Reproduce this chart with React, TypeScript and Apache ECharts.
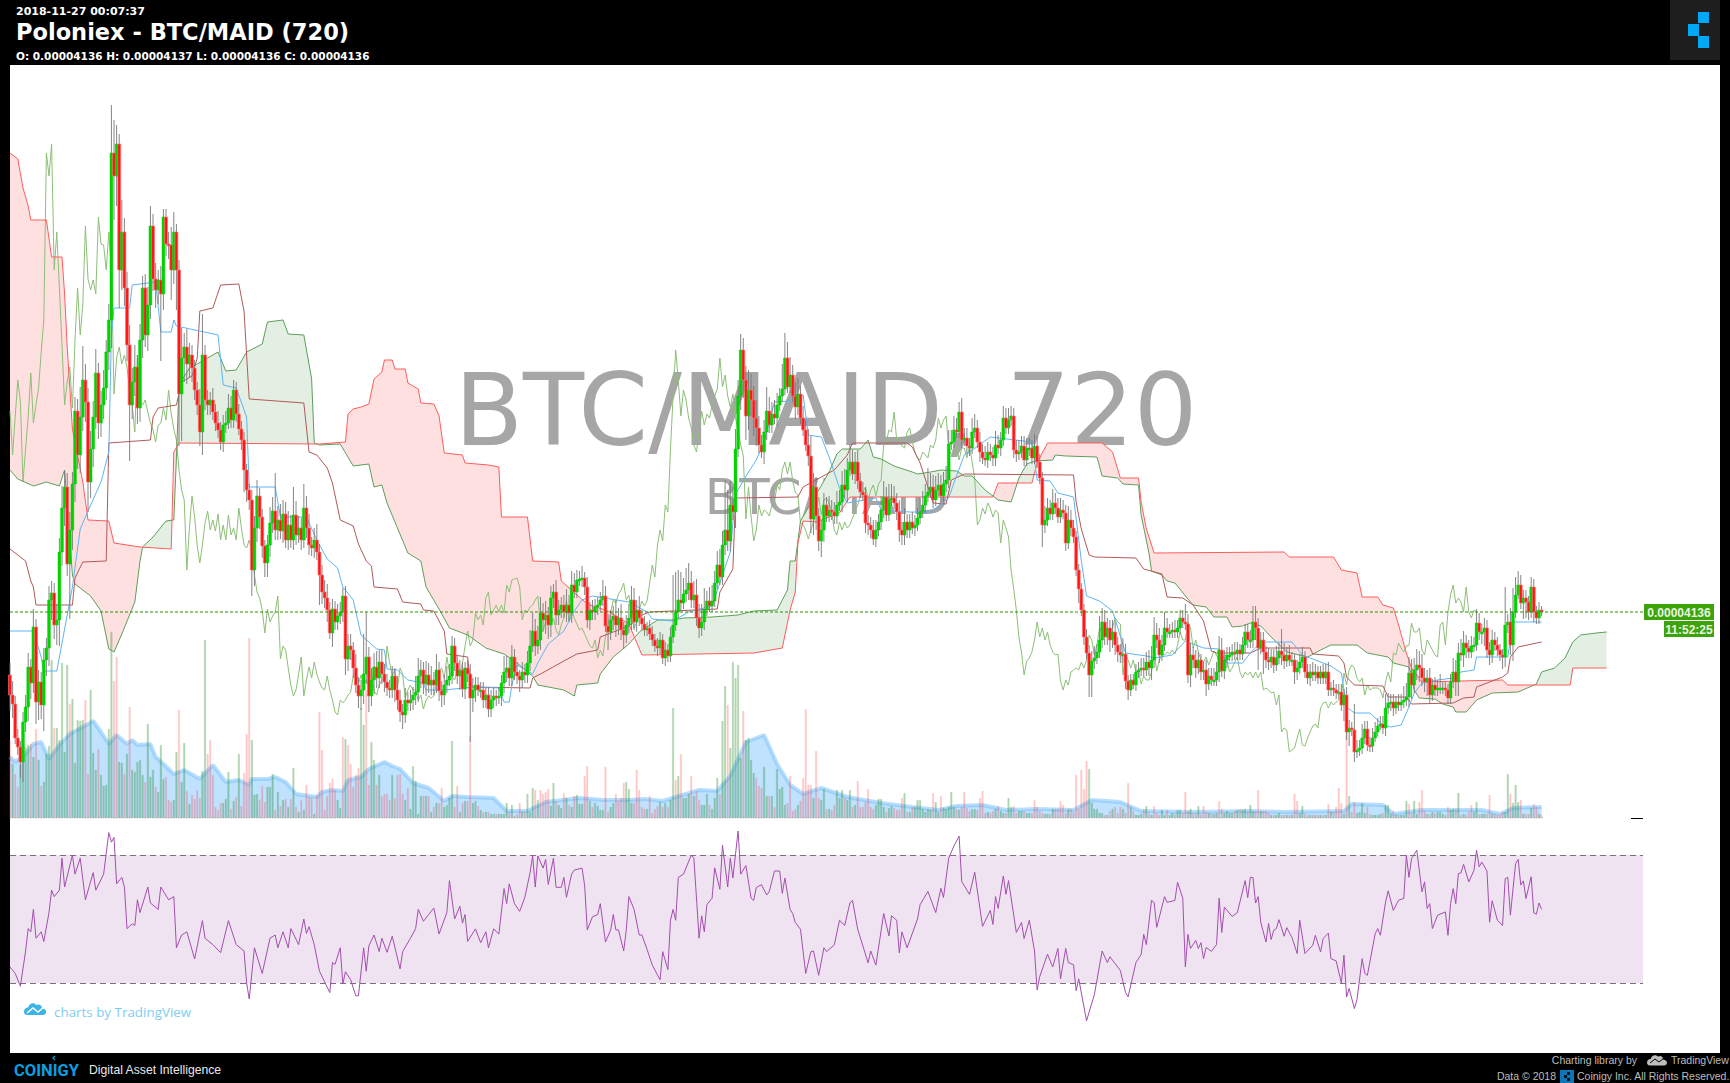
import React, { useEffect, useRef } from "react";
import * as echarts from "echarts";

// Prices are in units of 1e-7 BTC (414 = 0.00004140).
const closes = [
331,322,288,279,264,304,319,359,343,399,
324,344,321,366,378,426,433,401,406,474,
518,539,462,496,542,615,571,609,646,624,
544,577,609,653,603,621,638,674,706,873,
850,882,756,794,738,681,621,644,659,618,
686,738,691,721,800,747,736,746,732,809,
782,781,756,794,756,632,668,679,662,671,
658,636,621,594,671,626,621,626,614,603,
596,584,601,603,618,606,636,612,597,586,
556,536,526,456,498,530,509,480,463,481,
503,515,496,506,495,512,486,501,486,511,
491,498,486,518,498,481,478,486,474,451,
434,428,416,393,417,404,410,414,430,367,
380,376,358,341,330,336,352,369,330,346,
359,348,364,352,344,338,336,350,336,326,
314,311,326,323,326,331,334,350,356,342,
351,341,346,341,356,335,331,341,346,350,
380,363,350,356,337,358,352,328,336,341,
336,336,326,331,317,326,330,328,330,343,
354,358,348,369,354,350,346,354,351,363,
380,395,380,386,413,406,411,401,428,434,
411,416,421,414,421,413,441,434,446,447,
448,439,406,416,414,419,421,426,430,400,
394,406,410,401,408,396,391,401,408,426,
404,416,408,402,396,398,392,386,380,378,
386,368,376,370,389,401,414,426,423,432,
436,443,426,431,408,398,404,416,425,420,
425,443,461,449,481,496,485,521,514,577,
630,676,646,610,636,626,608,598,581,574,
594,615,601,612,608,621,630,637,668,639,
651,630,619,632,608,596,581,570,507,539,
510,485,496,521,510,516,514,510,521,524,
541,536,556,564,552,564,545,534,531,503,
501,496,487,496,504,516,529,511,526,528,
523,514,496,491,504,496,504,498,501,508,
514,521,530,534,539,526,536,541,530,542,
546,582,584,596,594,614,586,588,580,578,
594,598,584,574,568,566,574,571,568,581,
578,586,608,598,606,610,576,572,574,580,
566,578,578,568,580,564,548,501,506,518,
512,523,518,509,516,513,483,506,498,489,
456,437,416,389,373,351,365,368,374,386,
404,389,398,386,394,381,374,371,372,345,
336,346,341,354,356,358,356,364,358,366,
391,386,371,381,398,394,394,396,394,398,
408,404,402,351,371,366,358,366,354,356,
342,350,346,346,354,376,355,366,371,371,
374,372,376,372,381,394,386,386,404,398,
378,386,374,366,364,369,361,368,375,371,
365,371,366,366,354,358,364,369,354,348,
354,351,354,348,354,348,354,336,338,336,
333,334,321,331,294,298,296,274,276,278,
288,297,281,280,288,294,300,302,298,318,
323,324,318,324,321,324,326,329,353,341,
356,361,358,348,344,348,331,341,336,338,
338,338,336,328,344,354,344,373,371,383,
378,374,380,381,403,394,394,398,376,371,
386,381,376,371,369,401,404,381,414,431,
441,423,428,424,414,439,414,408,416,414];

const wickUp = [
12,14,8,9,6,10,12,14,8,18,8,12,10,12,10,14,12,10,16,14,
22,16,14,18,12,14,12,30,34,16,14,18,16,24,10,14,18,12,16,48,
33,19,10,32,14,16,20,14,22,12,16,12,14,18,20,12,16,10,14,8,
8,12,18,20,8,10,30,14,18,12,10,8,8,16,41,10,10,8,12,8,
12,8,10,12,14,12,10,8,10,8,8,6,6,10,12,16,8,8,6,10,
16,14,38,14,16,14,12,14,10,28,14,12,10,24,12,14,8,12,16,8,
10,12,14,8,10,8,12,10,8,10,12,12,8,14,8,10,40,45,10,12,
14,16,12,12,10,8,8,10,8,14,10,8,12,8,10,8,16,18,10,8,
14,12,14,8,16,8,10,10,14,12,10,8,8,10,8,6,8,10,12,8,
8,8,8,8,8,10,8,6,8,8,16,12,10,12,8,10,6,10,8,12,
16,18,12,14,16,10,14,8,12,8,12,10,8,10,16,10,14,12,10,8,
12,6,10,8,10,8,8,8,16,10,12,10,10,16,10,14,8,10,14,14,
12,10,14,8,8,6,8,8,6,8,8,6,8,6,10,50,40,30,28,16,
22,20,12,14,16,14,18,22,10,14,16,12,14,16,14,50,40,24,18,20,
16,16,12,14,20,16,14,18,12,10,12,24,14,12,14,12,8,25,25,16,
18,10,14,16,8,12,10,16,20,14,10,8,10,12,8,14,10,10,14,12,
14,16,12,18,12,10,12,8,10,8,8,8,10,10,8,14,16,10,16,14,
12,10,12,8,14,8,8,10,10,10,14,14,12,24,14,12,14,12,10,12,
14,14,12,14,12,10,14,10,10,8,14,14,8,10,8,12,10,8,8,14,
10,8,12,10,12,10,8,10,12,10,10,10,10,8,12,10,8,6,14,10,
8,14,10,10,12,10,8,14,10,8,6,6,6,6,8,8,10,12,8,24,
14,12,10,8,12,10,8,8,16,10,6,6,6,8,8,10,10,10,12,14,
18,12,12,10,16,10,8,8,10,8,8,8,18,10,12,8,10,8,6,8,
10,8,8,12,10,14,12,10,8,8,8,10,8,6,8,8,8,10,16,16,
10,8,8,6,12,8,8,12,8,22,12,8,10,8,6,8,8,10,6,8,
8,10,8,6,6,8,8,10,6,8,6,8,8,6,8,8,6,26,10,8,
14,8,8,8,10,10,8,8,8,14,10,8,8,6,8,8,14,14,16,14,
12,16,14,14,10,8,10,6,8,8,14,6,6,6,8,14,12,10,14,12,
8,8,10,8,14,10,8,10,8,8,10,8,8,6,6,38,8,14,24,18,
14,10,8,8,6,10,8,6,8,4];

const wickDown = [
16,14,6,8,16,20,10,14,16,10,22,18,14,26,16,18,20,14,20,26,
14,18,12,55,20,18,14,18,14,20,30,16,18,12,16,14,14,12,18,28,
44,30,38,20,18,16,56,14,14,16,14,18,12,16,14,12,18,14,67,16,
12,14,30,14,40,52,47,24,20,14,14,10,10,14,23,10,10,10,8,8,
8,8,10,8,6,8,8,8,6,10,22,12,10,26,16,14,12,12,14,14,
12,10,10,10,8,12,8,10,8,10,10,8,10,8,10,10,8,10,8,30,
12,10,12,6,14,8,8,8,10,16,12,10,10,8,12,14,14,10,16,10,
14,10,10,10,10,8,8,8,12,10,10,14,8,8,8,10,10,10,12,10,
12,8,10,10,8,10,12,10,8,6,8,8,8,14,8,10,8,44,14,12,
6,8,8,8,8,8,8,8,6,10,10,10,8,8,8,8,12,8,8,8,
8,6,10,8,10,10,14,14,12,10,10,10,8,6,10,8,10,6,6,6,
8,8,8,10,8,8,8,6,6,6,18,8,10,12,10,10,14,8,8,12,
8,10,8,6,6,6,6,6,6,8,6,6,8,6,6,6,6,6,8,6,
8,10,8,8,8,10,8,8,6,6,6,6,6,8,8,10,10,10,8,16,
8,14,18,24,14,16,18,18,8,6,12,8,8,8,6,8,6,6,6,6,
6,6,12,8,6,6,6,10,14,16,14,10,16,12,6,6,8,8,8,6,
10,8,12,6,6,10,8,6,6,10,10,8,6,8,6,8,8,6,6,6,
6,8,12,10,10,8,8,6,8,6,6,6,8,6,6,8,6,6,6,6,
8,8,6,6,6,6,8,6,8,8,6,6,6,10,6,6,8,6,8,8,
6,8,6,6,6,6,8,8,6,6,6,6,8,6,6,6,6,22,8,6,
6,6,6,6,6,6,8,6,8,6,6,14,6,8,6,22,22,8,6,6,
8,8,8,12,8,10,10,8,8,8,10,6,4,6,6,6,6,6,8,12,
8,8,8,6,6,6,6,6,6,6,6,6,6,8,12,8,10,6,8,8,
12,6,6,6,6,10,6,8,8,6,6,6,6,6,6,8,8,8,8,12,
22,6,22,8,8,6,8,6,6,10,8,6,6,6,12,8,6,6,6,6,
8,6,6,6,6,6,6,6,6,6,6,6,6,16,8,14,6,10,6,6,
6,6,6,6,6,4,4,4,6,8,6,8,8,6,6,6,6,6,10,14,
8,10,14,8,10,14,8,6,6,6,6,6,6,6,6,6,14,14,6,12,
10,6,6,6,6,8,12,14,8,10,8,6,6,6,12,10,8,10,16,6,
4,6,16,16,8,6,10,6,6,4];

const volumeSigned = [
-78,54,44,31,53,62,71,73,-74,61,-89,58,32,36,64,72,158,-90,90,78,
155,66,153,-114,119,55,98,97,98,-118,44,128,65,48,-69,43,32,33,89,186,
-137,-161,56,55,44,64,-111,48,46,56,58,43,36,94,41,48,31,26,73,39,
41,18,16,18,66,-108,36,75,27,14,23,19,28,20,47,178,-64,-78,43,11,
8,15,15,19,46,9,17,21,64,12,-45,-84,-180,78,23,24,18,32,16,31,
31,44,8,26,12,18,19,11,19,50,11,6,18,8,33,21,20,4,23,-106,
-68,8,22,-35,-39,28,18,10,-81,79,-73,-54,31,43,-50,110,93,-128,33,76,
58,33,43,22,24,24,18,43,20,43,-44,24,18,30,9,52,37,4,22,22,
22,22,6,11,15,15,30,11,13,20,77,11,-32,6,15,17,17,-82,15,17,
12,8,6,6,6,4,4,4,4,4,4,15,6,13,2,4,-15,6,6,24,
6,30,-28,18,-28,24,-26,-29,12,35,17,13,10,25,20,13,11,22,23,14,
14,-42,-52,17,11,15,12,8,8,-51,6,11,15,24,-17,20,35,36,29,15,
15,-48,28,11,9,9,-22,5,9,12,16,11,15,11,18,110,-38,42,-64,20,
20,24,42,22,27,18,13,13,24,13,9,20,40,24,97,132,-113,70,156,140,
153,60,-107,78,80,58,45,40,32,30,51,22,22,22,11,49,29,31,13,15,
-42,7,9,13,17,-40,-109,33,33,20,-67,20,18,29,9,9,8,13,28,20,
28,20,18,28,11,13,-37,11,11,16,-29,11,9,13,19,19,11,6,10,12,
10,8,8,20,25,6,6,11,11,18,18,9,6,9,8,25,16,6,22,10,
9,11,26,11,9,8,11,-26,10,7,9,9,8,-20,-27,5,6,5,7,9,
12,7,5,5,20,11,12,5,7,7,7,5,5,5,-18,11,7,5,4,4,
4,9,9,9,-17,13,5,9,9,6,-43,9,-48,-29,-57,49,15,9,9,5,
5,3,3,7,9,11,5,11,9,5,-35,11,7,3,3,4,9,12,5,3,
-12,5,3,8,3,8,3,5,4,8,8,5,-26,7,9,5,5,12,4,-12,
6,5,5,4,5,-17,9,5,7,5,5,7,8,9,8,9,7,13,7,7,
-28,7,7,7,5,3,3,3,5,3,3,3,3,3,-24,-17,5,12,4,3,
3,3,3,3,3,3,3,-14,6,6,11,-30,15,4,-98,22,6,16,5,6,
15,5,11,4,3,3,3,4,5,13,13,4,7,3,3,3,3,17,-14,5,
17,4,-16,28,7,4,4,6,5,6,6,4,3,-11,8,9,9,25,3,4,
3,6,-13,6,16,4,4,4,4,-23,4,4,3,3,6,6,44,-24,15,33,
16,-18,4,4,4,10,-14,11,4,3];

const volumeMA = [[0,61],[2,56],[6,64],[9,74],[12,76],[15,59],[19,73],[23,84],[28,91],[32,97],[35,86],[38,74],[41,83],[45,74],[47,78],[49,73],[54,74],[56,61],[59,54],[63,44],[67,48],[73,39],[78,53],[83,36],[88,38],[92,33],[93,39],[99,39],[102,41],[106,36],[110,24],[118,21],[120,26],[124,28],[128,27],[130,38],[135,41],[138,49],[144,56],[147,52],[150,49],[155,35],[161,30],[167,17],[170,22],[176,21],[186,20],[191,7],[199,7],[206,16],[219,20],[228,18],[238,18],[244,19],[251,17],[265,28],[272,27],[277,42],[283,76],[290,83],[295,54],[300,33],[305,24],[312,30],[322,21],[335,15],[347,11],[357,8],[364,12],[374,13],[383,8],[395,9],[409,8],[416,18],[427,16],[435,7],[454,6],[477,7],[490,6],[513,7],[516,14],[528,13],[532,4],[543,8],[566,8],[573,4],[578,10],[589,11]];

const rsiLine = [[0,35],[2,33],[4,29],[6,40],[7,47],[8,46],[9,53],[10,44],[12,46],[13,43],[15,52],[16,59],[17,57],[19,59],[20,69],[21,60],[24,70],[25,64],[27,69],[29,56],[32,64.5],[33,59],[36,64],[38,77],[39,74],[40,75.5],[41,61],[43,63],[44,60],[45,47],[47,48.5],[48,48],[49,56],[50,52],[53,60],[54,55],[57,53],[58,60],[61,56],[63,57],[64,41],[66,45],[68,46],[71,37.5],[74,49.5],[75,44],[78,42],[81,39.5],[84,49.5],[87,42],[90,40],[91,30],[92,25],[94,41],[97,33],[100,44],[102,45],[103,41],[105,46],[107,41],[108,47],[111,42],[113,50],[114,45.5],[115,47.6],[117,42],[119,33.7],[123,27],[124,36.4],[125,35.8],[127,41],[128,29.7],[129,33.5],[131,31],[133,26],[134,26],[136,41],[137,33.7],[138,41.6],[140,45],[142,39.8],[143,44],[145,39.6],[147,44.6],[150,34.4],[151,39.8],[154,44],[156,47],[157,53],[159,49.3],[161,51.4],[163,53.4],[165,45.3],[168,52],[169,62],[171,50],[173,54],[174,48.7],[175,51.4],[176,43],[179,46.9],[181,42.6],[183,46],[184,41],[186,46.9],[188,45.3],[190,59.5],[191,54.8],[192,61],[194,54.8],[196,52.4],[198,56.8],[200,64.5],[201,69.7],[202,60],[203,69.7],[205,65.9],[206,68.6],[207,60.8],[209,69],[210,59.9],[212,59.9],[213,63],[214,56.8],[216,64],[217,65.3],[220,65.9],[221,60.4],[222,46.6],[224,50.7],[226,51.4],[227,54.8],[229,42.8],[231,46.6],[232,51.4],[233,46.6],[234,46.6],[236,40],[237,46.6],[238,57],[240,53],[242,45],[243,45],[245,40.5],[247,35.6],[250,31],[251,39.8],[253,34.2],[254,49.6],[255,53],[256,49.6],[257,63],[259,64],[262,70],[263,69],[265,44],[266,51],[267,46],[268,54.5],[270,56.5],[271,66],[273,59.3],[274,73],[276,60],[277,69],[278,62.8],[280,77.5],[281,64],[283,66.7],[285,56.5],[286,55.8],[287,59.8],[288,60.3],[289,60.7],[291,57.5],[292,58.6],[294,65],[296,65],[297,58],[298,62.8],[300,53],[301,51.7],[302,48.9],[304,46.8],[306,33],[308,39.8],[309,40],[311,32.4],[313,41],[314,39.8],[317,41.9],[319,49.6],[321,48],[323,55],[324,55.8],[326,46.8],[330,36.3],[331,40],[333,35.6],[336,51.7],[338,44.7],[339,51],[341,49.6],[342,39.4],[343,46],[345,41],[349,50],[350,54.5],[353,58.6],[356,52],[358,59.6],[359,56.7],[361,69],[363,72.8],[365,75.9],[366,61.7],[369,57.7],[371,64.6],[374,47.7],[377,52.7],[378,48.3],[379,57],[380,53.3],[382,63.4],[383,57.7],[384,62],[387,45.8],[389,48.9],[390,43.9],[392,49.6],[394,40],[395,27.8],[396,32],[399,39],[401,35],[403,40.8],[404,31.3],[406,40.8],[407,36.4],[409,35.7],[410,27.6],[411,31.3],[414,18.2],[417,26.3],[420,40],[422,36.4],[423,38.2],[427,33.9],[429,27],[430,25.7],[433,36.4],[435,38.9],[436,45.2],[437,42],[439,55.8],[440,55.2],[441,47.4],[444,57],[445,55.2],[448,55.8],[449,61.5],[451,56.5],[452,35],[453,45.2],[454,40.8],[456,43.3],[457,40.8],[458,42.6],[459,37.6],[460,41.1],[462,39.9],[464,42],[465,56.5],[466,45.8],[467,53.7],[470,50.8],[472,52],[475,62],[476,56.7],[477,63],[478,63],[479,55],[480,57],[481,49],[483,42.8],[484,48.6],[485,43.6],[486,46.5],[487,47],[488,49.8],[490,44.6],[491,47.3],[493,44.2],[495,39.2],[496,49.6],[498,39.2],[501,41.8],[502,44.9],[504,39.7],[505,43.9],[507,45.6],[508,37.6],[510,36.9],[512,30],[513,38.7],[514,25.6],[515,28.3],[517,22],[518,24.8],[520,37.6],[521,33],[522,32.4],[525,45.4],[526,47],[527,44.9],[529,55.3],[530,58.8],[532,52.7],[534,55.9],[536,56.4],[537,69.9],[538,63],[539,68.9],[541,71.5],[543,58.5],[544,61.6],[545,53.3],[546,54.8],[547,47],[549,51.2],[552,52.2],[553,44.9],[554,54.8],[555,59.5],[556,54.8],[557,64.2],[558,64.4],[559,67.1],[561,61.6],[563,65.2],[564,71.5],[565,66.3],[566,67.8],[568,65],[569,49],[570,55.7],[572,49.6],[574,48],[575,62.6],[576,63],[577,51.2],[579,67.3],[580,68.6],[581,60.6],[582,61.9],[583,56.4],[585,63.2],[586,51.9],[587,51.5],[588,55],[589,53]];

const spanA = [[0,556],[3,547],[9,540],[14,544],[19,540],[21,556],[24,451],[25,442],[31,430],[35,415],[38,377],[40,374],[43,392],[48,424],[50,465],[51,479],[55,489],[60,505],[63,506],[64,568],[65,641],[69,658],[72,662],[80,674],[83,655],[87,656],[91,674],[97,682],[99,704],[105,706],[107,692],[113,691],[116,647],[117,583],[119,581],[127,582],[132,560],[138,562],[140,539],[143,541],[145,523],[153,473],[158,465],[160,439],[165,417],[169,398],[176,391],[183,378],[190,372],[195,363],[201,350],[203,341],[213,336],[217,330],[218,341],[226,343],[227,352],[232,369],[238,382],[242,394],[249,406],[255,406],[259,408],[270,409],[280,411],[286,415],[295,416],[299,436],[300,465],[302,465],[304,505],[313,545],[315,554],[318,572],[320,577],[327,577],[330,586],[332,569],[335,567],[340,560],[347,554],[349,552],[354,554],[358,556],[364,555],[367,550],[370,550],[375,536],[380,526],[385,524],[388,548],[391,562],[394,565],[401,566],[402,571],[406,570],[418,569],[420,550],[426,548],[428,542],[434,541],[435,511],[438,473],[439,455],[443,451],[445,445],[448,443],[453,427],[455,421],[460,419],[463,409],[468,409],[470,399],[474,400],[477,403],[481,400],[485,389],[491,374],[499,369],[504,376],[508,381],[518,381],[522,373],[530,369],[532,363],[538,359],[539,351],[540,336],[542,328],[548,327],[551,322],[555,319],[556,314],[560,314],[564,326],[570,333],[580,334],[587,342],[589,354],[594,358],[598,368],[601,384],[604,391],[610,393],[614,394]];

const spanB = [[0,873],[3,867],[5,838],[7,820],[8,806],[14,806],[16,769],[20,769],[21,732],[22,679],[24,597],[28,544],[30,506],[38,505],[40,483],[50,479],[62,477],[63,574],[65,583],[119,582],[129,584],[130,612],[132,617],[135,619],[138,622],[140,647],[143,654],[144,666],[147,666],[148,657],[152,657],[153,643],[157,637],[158,623],[163,622],[165,610],[167,573],[174,571],[175,563],[184,561],[188,559],[189,509],[199,509],[201,465],[211,464],[212,445],[222,422],[230,415],[238,402],[243,371],[286,373],[297,378],[300,416],[302,434],[303,483],[305,505],[310,504],[319,513],[323,529],[378,529],[380,543],[393,543],[395,563],[399,583],[420,583],[424,574],[427,548],[434,548],[435,524],[437,497],[440,473],[490,474],[492,469],[509,469],[512,456],[518,453],[520,429],[526,429],[528,421],[532,418],[534,401],[537,373],[539,358],[543,344],[574,346],[576,341],[600,341],[601,358],[614,358]];

const kijun = [[0,477],[6,465],[8,445],[9,439],[10,421],[24,421],[25,448],[28,464],[37,465],[38,583],[54,586],[55,609],[57,618],[64,621],[66,644],[70,650],[72,668],[73,715],[78,718],[81,741],[88,742],[90,715],[92,627],[113,623],[115,574],[118,571],[122,558],[124,543],[127,506],[132,500],[134,482],[137,465],[139,460],[140,439],[149,437],[151,424],[158,422],[159,416],[163,415],[167,395],[168,372],[176,369],[177,343],[178,339],[200,338],[201,348],[204,352],[213,365],[218,372],[226,376],[227,389],[238,400],[243,411],[246,414],[272,417],[273,434],[278,457],[279,528],[303,529],[305,539],[317,556],[322,571],[324,583],[345,583],[347,579],[350,563],[353,539],[355,523],[360,522],[362,546],[367,552],[409,551],[410,524],[412,497],[415,471],[417,469],[433,468],[436,457],[443,452],[445,429],[451,428],[455,421],[459,405],[462,375],[464,373],[477,373],[481,378],[500,378],[501,372],[511,370],[513,363],[514,349],[517,341],[528,340],[530,329],[537,329],[539,322],[555,323],[559,328],[563,329],[564,339],[569,344],[574,349],[576,353],[577,369],[580,379],[587,383],[589,384]];

const tenkan = [[0,395],[9,395],[12,369],[13,355],[18,355],[24,439],[27,497],[31,521],[35,544],[38,574],[39,691],[40,718],[46,718],[47,741],[56,744],[58,694],[62,694],[63,706],[64,700],[80,691],[82,641],[87,638],[91,609],[92,539],[102,539],[104,509],[114,509],[118,486],[122,467],[126,458],[128,439],[132,426],[135,391],[141,377],[144,376],[145,357],[149,356],[153,346],[159,343],[160,336],[167,336],[178,339],[188,338],[190,324],[192,324],[193,341],[195,361],[201,352],[203,363],[207,382],[213,395],[217,415],[220,426],[224,430],[238,424],[245,414],[247,407],[255,405],[261,414],[270,420],[277,474],[279,532],[284,554],[287,566],[290,584],[294,624],[300,625],[302,631],[305,631],[307,591],[312,589],[315,569],[319,538],[322,523],[333,528],[335,516],[346,514],[354,514],[361,528],[363,543],[367,571],[369,574],[377,589],[393,584],[395,546],[400,545],[403,533],[409,529],[412,465],[414,430],[419,425],[424,415],[429,373],[437,370],[440,368],[447,371],[452,385],[459,378],[465,377],[468,363],[474,363],[477,373],[480,381],[483,384],[493,384],[497,371],[501,367],[508,360],[512,353],[514,319],[517,313],[523,313],[528,301],[531,299],[535,301],[538,319],[540,333],[543,343],[549,346],[555,348],[558,354],[563,356],[564,369],[576,369],[578,404],[589,404]];

const LAGGING_SHIFT = 25;
const LAST_PRICE = 414;
const X_MAX = 628;
const SMALL_BAR = 45;

const CLOUD_PATH =
  "M0 13C0 10 2 8 5 8C6 3 12 1 15 5C18 3 22 5 22 9C25 9 27 11 27 13C27 16 25 17 23 17L4 17C1 17 0 15 0 13Z";
echarts.graphic.registerShape("tvCloud", echarts.graphic.extendPath(CLOUD_PATH, {}));

const candleData = closes.map((c, i) => {
  const o = i === 0 ? c + 20 : closes[i - 1];
  return [i, o, c, Math.min(o, c) - (wickDown[i] || 0), Math.max(o, c) + (wickUp[i] || 0)];
});
const lagging = closes.slice(LAGGING_SHIFT).map((v, i) => [i, v]);
// Short bars take the colour of their own candle; tall ones keep the colour.
const isDownBar = (v: number, i: number) =>
  v < 0 || (v < SMALL_BAR && i > 0 && closes[i] < closes[i - 1]);
const volUp = volumeSigned.map((v, i) => [i, isDownBar(v, i) ? 0 : Math.abs(v)]);
const volDown = volumeSigned.map((v, i) => [i, isDownBar(v, i) ? Math.abs(v) : 0]);

// Height of a drawn span at bar i; used only to shade the region between the two span lines.
const spanAt = (pairs: number[][], i: number) => {
  for (let k = 1; k < pairs.length; k++) {
    if (i <= pairs[k][0]) {
      const [x0, y0] = pairs[k - 1];
      const [x1, y1] = pairs[k];
      return y0 + ((y1 - y0) * (i - x0)) / (x1 - x0);
    }
  }
  return pairs[pairs.length - 1][1];
};
const cloudEnd = spanA[spanA.length - 1][0];
const cloudRuns: number[][] = [];
{
  let start = 0;
  for (let i = 1; i <= cloudEnd; i++) {
    const prev = spanAt(spanA, i - 1) >= spanAt(spanB, i - 1);
    const cur = spanAt(spanA, i) >= spanAt(spanB, i);
    if (prev !== cur || i === cloudEnd) {
      cloudRuns.push([start, i, prev ? 1 : 0]);
      start = i;
    }
  }
}

const renderCloud = (params: any, api: any) => {
  const s = api.value(0);
  const e = api.value(1);
  const green = api.value(2) === 1;
  const pts: number[][] = [];
  for (let i = s; i <= e; i++) pts.push(api.coord([i, spanAt(spanA, i)]));
  for (let i = e; i >= s; i--) pts.push(api.coord([i, spanAt(spanB, i)]));
  return {
    type: "polygon",
    shape: { points: pts },
    style: { fill: green ? "#e4efe3" : "#ffe0e0", stroke: "none" },
    silent: true,
  };
};

const renderCandle = (params: any, api: any) => {
  const i = api.value(0);
  const o = api.value(1);
  const c = api.value(2);
  const top = api.coord([i, Math.max(o, c)]);
  const bot = api.coord([i, Math.min(o, c)]);
  const hi = api.coord([i, api.value(4)]);
  const lo = api.coord([i, api.value(3)]);
  const up = c >= o;
  const w = 2.9;
  const h = Math.max(bot[1] - top[1], 1.8);
  return {
    type: "group",
    silent: true,
    children: [
      {
        type: "line",
        shape: { x1: top[0], y1: hi[1], x2: top[0], y2: lo[1] },
        style: { stroke: "#777777", lineWidth: 0.9 },
      },
      {
        type: "rect",
        shape: { x: top[0] - w / 2, y: top[1], width: w, height: h },
        style: up
          ? { fill: "#00d400", stroke: "#00cc00", lineWidth: 0.4 }
          : { fill: "#ff1414", stroke: "#ff7070", lineWidth: 0.7 },
      },
    ],
  };
};

const txt = (text: string, x: number, y: number, size: number, fill: string, extra: any = {}) => ({
  type: "text",
  silent: true,
  z: extra.z ?? 20,
  style: {
    text,
    x,
    y,
    fontSize: size,
    fontFamily: extra.family ?? '"Liberation Sans", Arial, sans-serif',
    fontWeight: extra.weight ?? "normal",
    fill,
    align: extra.align ?? "left",
    verticalAlign: "middle",
  },
});
const box = (x: number, y: number, width: number, height: number, fill: string, z = 20) => ({
  type: "rect",
  silent: true,
  z,
  shape: { x, y, width, height },
  style: { fill },
});
const DEJAVU = '"DejaVu Sans", Verdana, sans-serif';

const graphics: any[] = [
  box(10, 65, 1710, 988, "#ffffff", -5),
  txt("BTC/MAID, 720", 826, 410, 100, "#a6a6a6", { family: DEJAVU, align: "center", z: -1 }),
  txt("BTC/MAID", 827, 497, 50, "#a6a6a6", { family: DEJAVU, align: "center", z: -1 }),
  txt("2018-11-27 00:07:37", 16, 11, 11, "#ffffff", { family: DEJAVU, weight: "bold" }),
  txt("Poloniex - BTC/MAID (720)", 16, 32, 22.5, "#ffffff", { family: DEJAVU, weight: "bold" }),
  txt("O: 0.00004136 H: 0.00004137 L: 0.00004136 C: 0.00004136", 16, 56, 10.5, "#ffffff", { family: DEJAVU, weight: "bold" }),
  box(1670, 0, 50, 60, "#1e1e1e"),
  box(1698, 12, 11, 11, "#00a8f5", 21),
  box(1688, 24, 11, 12, "#00a8f5", 21),
  box(1698, 36, 11, 12, "#00a8f5", 21),
  box(1644, 604, 70, 16, "#3ca30a"),
  txt("0.00004136", 1679, 612.5, 12, "#e8f5e0", { align: "center", weight: "bold" }),
  box(1664, 621, 50, 16, "#3ca30a"),
  txt("11:52:25", 1689, 629.5, 12, "#e8f5e0", { align: "center", weight: "bold" }),
  {
    type: "line",
    silent: true,
    z: 20,
    shape: { x1: 1631, y1: 818.5, x2: 1643, y2: 818.5 },
    style: { stroke: "#000000", lineWidth: 1 },
  },
  { type: "tvCloud", silent: true, z: 20, x: 24, y: 1001, scaleX: 0.82, scaleY: 0.82, style: { fill: "#3cb4e8" } },
  {
    type: "polyline",
    silent: true,
    z: 21,
    shape: { points: [[27, 1013], [33, 1008], [38, 1012], [44, 1007]] },
    style: { stroke: "#ffffff", lineWidth: 1.5, fill: "none" },
  },
  txt("charts by TradingView", 54, 1012, 13.4, "#7fcdf2", { family: '"Open Sans", sans-serif' }),
  txt("COINIGY", 14, 1070, 16.5, "#0a9fe0", { family: "Roboto, sans-serif", weight: "bold" }),
  {
    type: "polyline",
    silent: true,
    z: 20,
    shape: { points: [[55, 1056], [53, 1058], [55, 1060]] },
    style: { stroke: "#0a9fe0", lineWidth: 1.3, fill: "none" },
  },
  txt("Digital Asset Intelligence", 89, 1070, 12.2, "#e8e8e8"),
  txt("Charting library by", 1637, 1060, 10.5, "#bdbdbd", { align: "right" }),
  { type: "tvCloud", silent: true, z: 20, x: 1647, y: 1053, scaleX: 0.74, scaleY: 0.74, style: { fill: "#bdbdbd" } },
  {
    type: "polyline",
    silent: true,
    z: 21,
    shape: { points: [[1650, 1063], [1655, 1059], [1659, 1062], [1664, 1058]] },
    style: { stroke: "#000000", lineWidth: 1, fill: "none" },
  },
  txt("TradingView", 1671, 1060, 10.5, "#bdbdbd"),
  txt("Data © 2018", 1556, 1076, 10.5, "#bdbdbd", { align: "right" }),
  box(1560, 1070, 14, 13, "#0b77b8"),
  box(1567, 1072, 3, 3, "#04121c", 21),
  box(1564, 1075, 3, 3, "#04121c", 21),
  box(1567, 1078, 3, 3, "#04121c", 21),
  txt("Coinigy Inc. All Rights Reserved.", 1577, 1076, 10.5, "#bdbdbd"),
];

const lineSeries = (name: string, data: number[][], color: string, z: number, width = 1, yAxisIndex = 0) => ({
  name,
  type: "line",
  data,
  xAxisIndex: yAxisIndex === 2 ? 1 : 0,
  yAxisIndex,
  showSymbol: false,
  symbol: "none",
  silent: true,
  z,
  lineStyle: { color, width },
});

const option: any = {
  animation: false,
  backgroundColor: "#000000",
  tooltip: { show: false },
  legend: { show: false },
  graphic: graphics,
  grid: [
    { left: 10, top: 65, width: 1633, height: 753 },
    { left: 10, top: 823, width: 1633, height: 208 },
  ],
  xAxis: [
    { type: "value", gridIndex: 0, min: 0, max: X_MAX, show: false },
    { type: "value", gridIndex: 1, min: 0, max: X_MAX, show: false },
  ],
  yAxis: [
    { type: "value", gridIndex: 0, min: 208, max: 961, show: false },
    { type: "value", gridIndex: 0, min: 0, max: 753, show: false },
    { type: "value", gridIndex: 1, min: 15, max: 80, show: false },
  ],
  series: [
    {
      name: "Kumo",
      type: "custom",
      renderItem: renderCloud,
      data: cloudRuns,
      xAxisIndex: 0,
      yAxisIndex: 0,
      encode: { x: [0, 1] },
      silent: true,
      clip: false,
      z: 1,
    },
    {
      ...lineSeries("Volume MA", volumeMA, "rgba(125,195,250,0.55)", 2, 4, 1),
      areaStyle: { color: "#bfe2ff", opacity: 1 },
    },
    {
      name: "Volume up",
      type: "bar",
      data: volUp,
      xAxisIndex: 0,
      yAxisIndex: 1,
      barWidth: 2,
      barGap: "-100%",
      silent: true,
      z: 3,
      itemStyle: { color: "rgba(0,128,0,0.28)", borderColor: "rgba(40,130,40,0.25)", borderWidth: 0.5 },
    },
    {
      name: "Volume down",
      type: "bar",
      data: volDown,
      xAxisIndex: 0,
      yAxisIndex: 1,
      barWidth: 2,
      barGap: "-100%",
      silent: true,
      z: 3,
      itemStyle: { color: "rgba(255,0,0,0.2)", borderColor: "rgba(255,120,120,0.25)", borderWidth: 0.5 },
    },
    lineSeries("Lagging", lagging, "#8dbf78", 4),
    lineSeries("Span A", spanA, "#5f9e5a", 4),
    lineSeries("Span B", spanB, "#ff5c5c", 4),
    lineSeries("Kijun", kijun, "#b05a5a", 4),
    lineSeries("Tenkan", tenkan, "#5fb4f5", 4),
    {
      ...lineSeries("Last price", [[0, LAST_PRICE], [X_MAX, LAST_PRICE]], "#2f8f00", 6),
      lineStyle: { color: "#2f8f00", width: 1, type: [3, 2] },
    },
    {
      name: "BTC/MAID",
      type: "custom",
      renderItem: renderCandle,
      data: candleData,
      xAxisIndex: 0,
      yAxisIndex: 0,
      encode: { x: 0, y: [1, 2, 3, 4] },
      silent: true,
      z: 5,
    },
    {
      ...lineSeries("RSI", rsiLine, "#a14fac", 5, 1, 2),
      markArea: {
        silent: true,
        itemStyle: { color: "#f0e3f1", opacity: 1 },
        data: [[{ xAxis: 0, yAxis: 30 }, { xAxis: X_MAX, yAxis: 70 }]],
      },
      markLine: {
        silent: true,
        symbol: "none",
        label: { show: false },
        lineStyle: { color: "#7d6e7d", width: 1, type: [6, 4] },
        data: [{ yAxis: 30 }, { yAxis: 70 }],
      },
    },
  ],
};

export default function App() {
  const ref = useRef<HTMLDivElement>(null);
  useEffect(() => {
    document.body.style.margin = "0";
    document.body.style.background = "#000";
    const chart = echarts.init(ref.current!, undefined, { renderer: "svg", width: 1730, height: 1083 });
    chart.setOption(option);
    return () => chart.dispose();
  }, []);
  return <div ref={ref} style={{ width: 1730, height: 1083 }} />;
}
